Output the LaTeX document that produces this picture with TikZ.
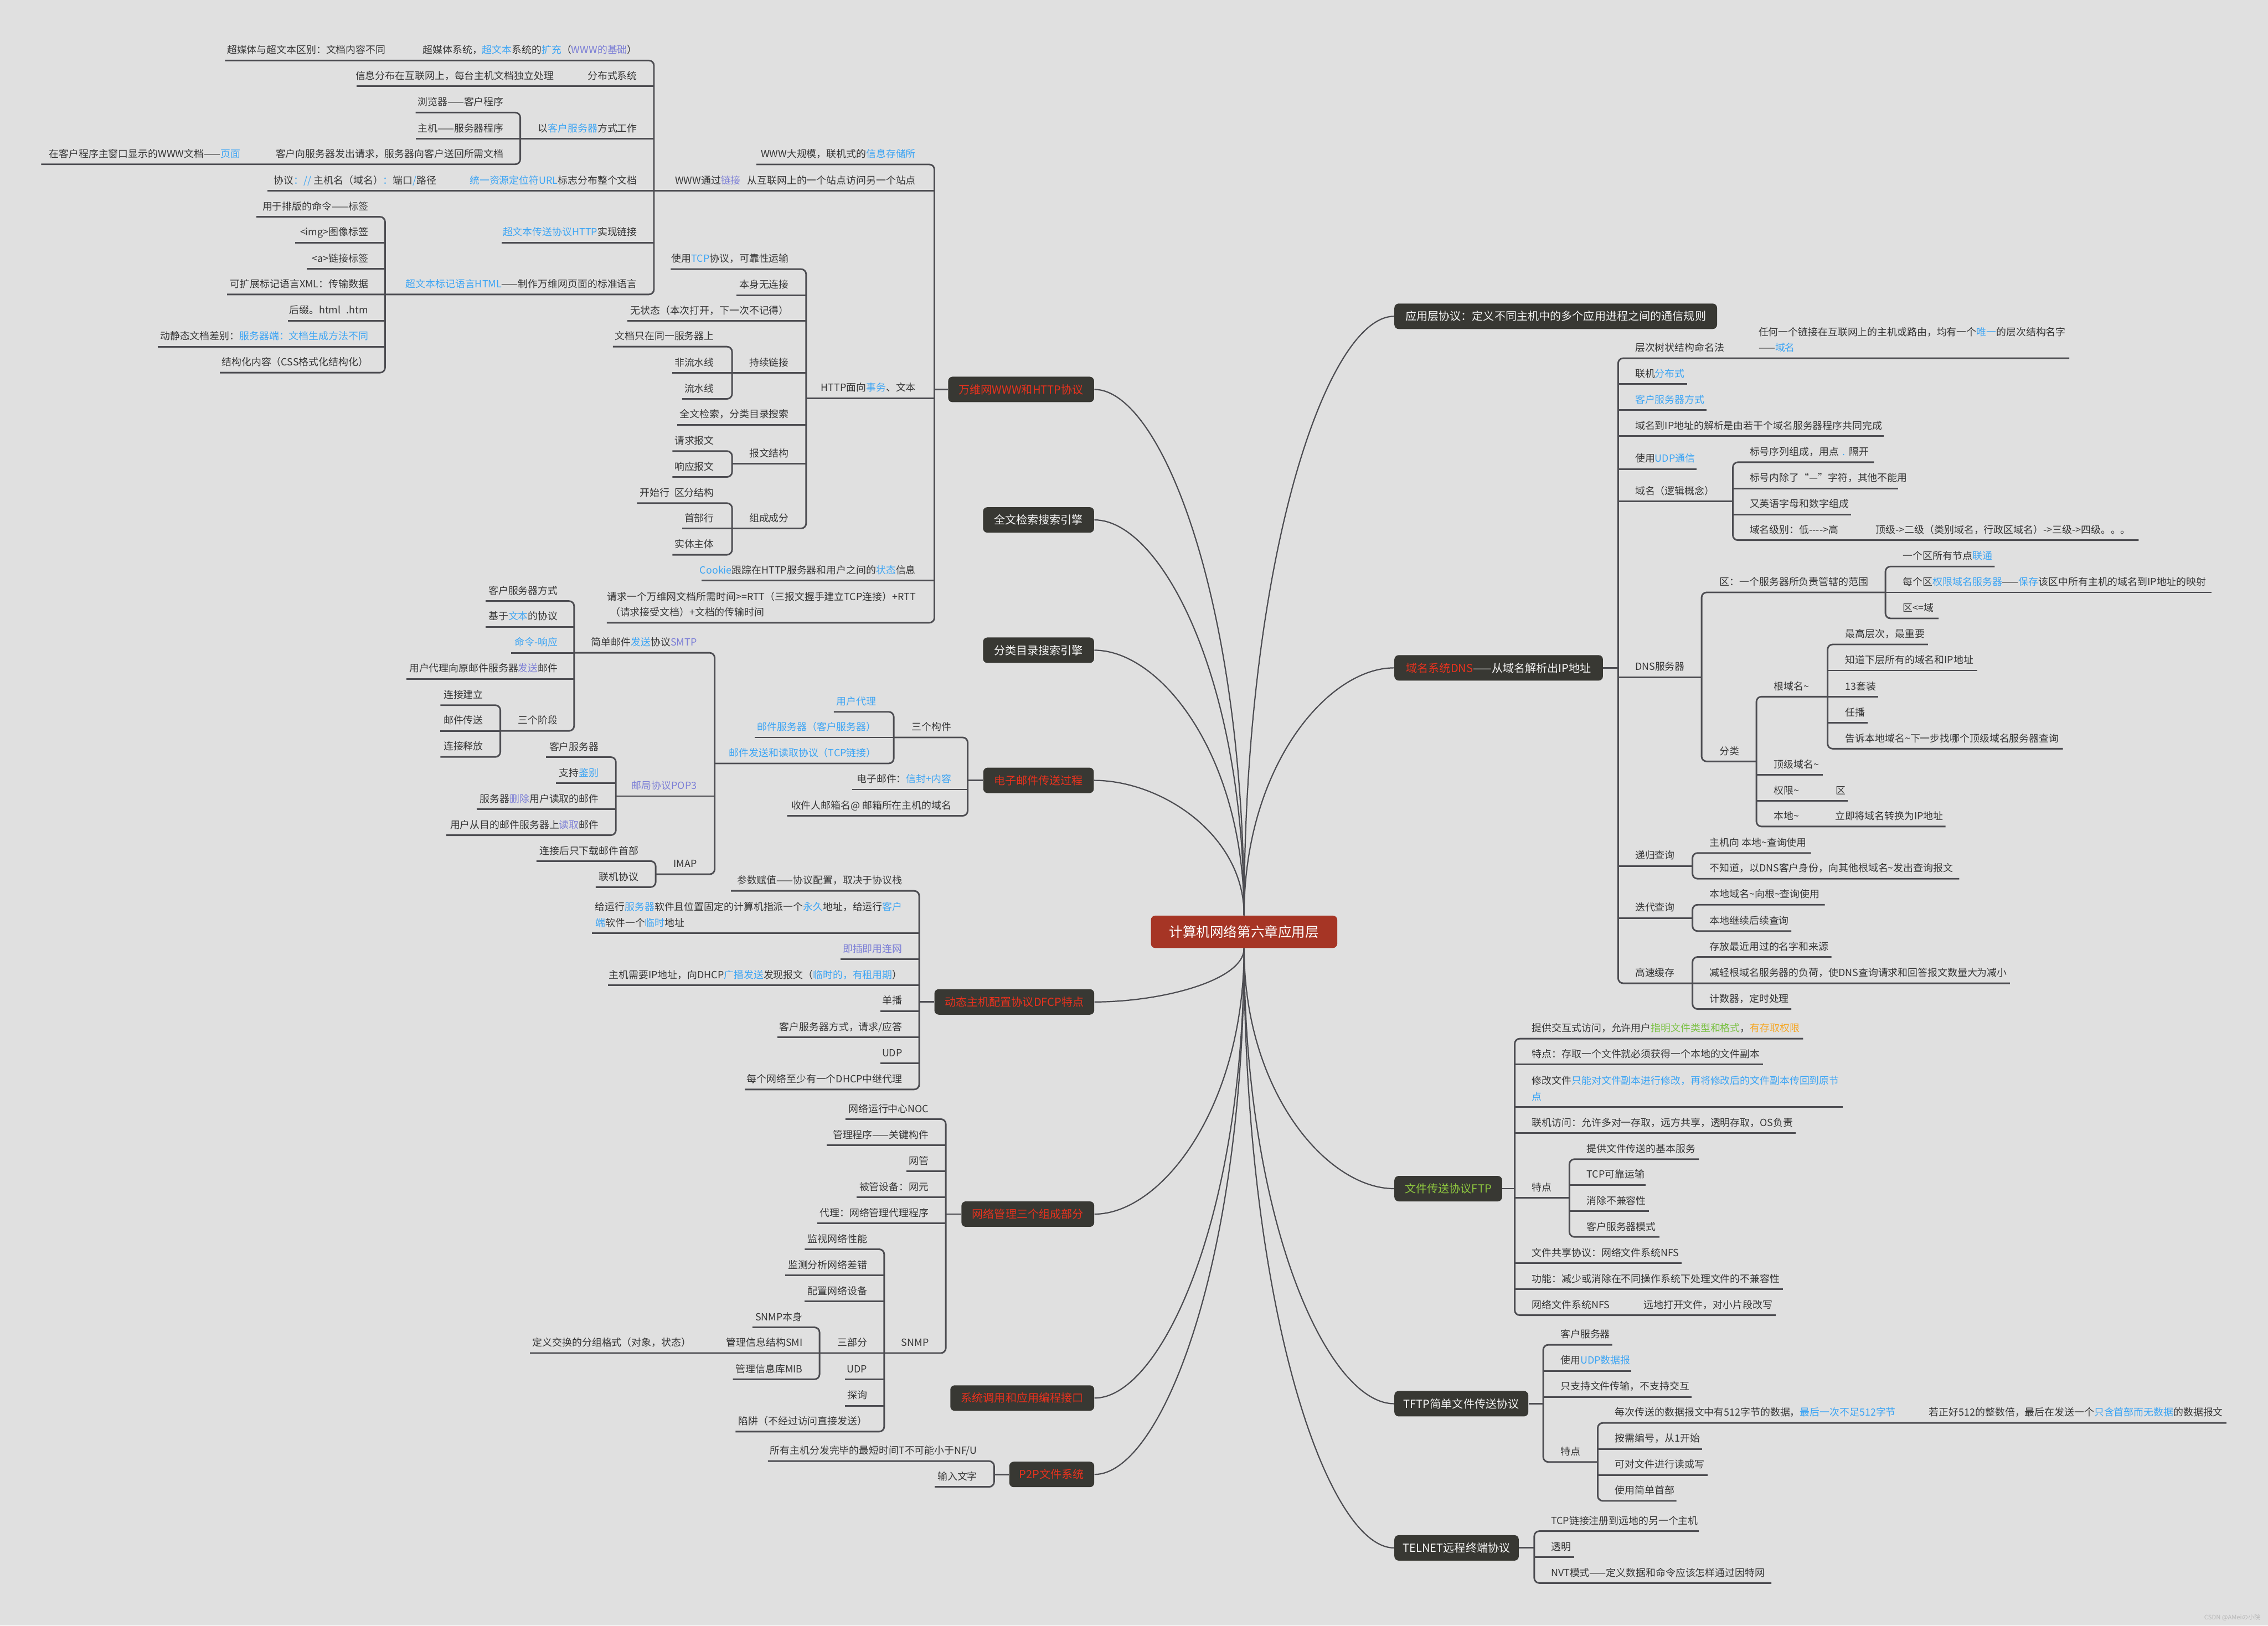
\documentclass[tikz,border=0pt]{standalone}
\usepackage{fontspec}
\newfontfamily\cjk{Noto Sans CJK SC}
\definecolor{cbg}{HTML}{E0E0E0}
\definecolor{cline}{HTML}{4D4D52}
\definecolor{ctext}{HTML}{363636}
\definecolor{cblue}{HTML}{3DA5F4}
\definecolor{cpurple}{HTML}{7C7FD6}
\definecolor{cgreen}{HTML}{7AC143}
\definecolor{cftp}{HTML}{8DC63F}
\definecolor{corange}{HTML}{F5A623}
\definecolor{cred}{HTML}{E8321E}
\definecolor{cbox}{HTML}{383833}
\definecolor{croot}{HTML}{A63525}
\definecolor{cwm}{HTML}{B8B8B8}
\definecolor{cwhite}{HTML}{F5F5F5}
\newcommand\leaffont{\cjk\fontsize{6.85}{8.2}\selectfont}
\newcommand\boxfont{\cjk\fontsize{7.7}{9}\selectfont}
\newcommand\rootfont{\cjk\fontsize{9.4}{11}\selectfont}
\newcommand\hlb[1]{\textcolor{cblue}{#1}}
\newcommand\hlp[1]{\textcolor{cpurple}{#1}}
\newcommand\hlg[1]{\textcolor{cgreen}{#1}}
\newcommand\hlo[1]{\textcolor{corange}{#1}}
\newcommand\TL[4]{\node[lt,anchor=base east] (#1) at (#2,#3-4.7) {#4};}
\newcommand\TR[4]{\node[lt,anchor=base west] (#1) at (#2,#3-4.7) {#4};}
\newcommand\UL[3]{\draw[ln] (#1,#3) -- (#2,#3);}
\newcommand\SP[5]{\draw[ln] (#2,#3) -- (#1,#3) -- (#1,#5) -- (#4,#5);}
\begin{document}
\begin{tikzpicture}[x=1pt,y=-1pt,
  lt/.style={inner sep=0pt, font=\leaffont, text=ctext},
  ln/.style={draw=cline, line width=1.1pt, rounded corners=3.5pt},
  cv/.style={draw=cline, line width=0.85pt},
  box/.style={fill=cbox, rounded corners=3pt, minimum height=17.6pt, inner sep=0pt, font=\boxfont, text=cwhite}]
\fill[cbg] (0,0) rectangle (1568,1124);
\useasboundingbox (0,0) rectangle (1568,1124);

% ---------- main topic boxes ----------
\node[fill=croot, rounded corners=3pt, minimum width=128.8pt, minimum height=22.4pt, inner sep=0pt, font=\rootfont, text=white] (root) at (860.1,644.3) {计算机网络第六章应用层};
\node[box,anchor=east,minimum width=100.9pt,text=cred] (www) at (756.6,269.3) {万维网WWW和HTTP协议};
\node[box,anchor=east,minimum width=76.8pt] (qw) at (756.6,359.5) {全文检索搜索引擎};
\node[box,anchor=east,minimum width=76.8pt] (fl) at (756.6,449.6) {分类目录搜索引擎};
\node[box,anchor=east,minimum width=76.4pt,text=cred] (mail) at (756.4,539.6) {电子邮件传送过程};
\node[box,anchor=east,minimum width=110.5pt,text=cred] (dfcp) at (756.7,692.8) {动态主机配置协议DFCP特点};
\node[box,anchor=east,minimum width=91.8pt,text=cred] (nm) at (756.7,839.5) {网络管理三个组成部分};
\node[box,anchor=east,minimum width=99.5pt,text=cred] (sys) at (756.7,966.7) {系统调用和应用编程接口};
\node[box,anchor=east,minimum width=58.7pt,text=cred] (p2p) at (756.7,1019.5) {P2P文件系统};
\node[box,anchor=west,minimum width=223.1pt] (app) at (963.8,218.7) {应用层协议：定义不同主机中的多个应用进程之间的通信规则};
\node[box,anchor=west,minimum width=144.2pt] (dns) at (963.8,461.8) {\textcolor{cred}{域名系统DNS}——从域名解析出IP地址};
\node[box,anchor=west,minimum width=74.5pt,text=cftp] (ftp) at (963.8,821.9) {文件传送协议FTP};
\node[box,anchor=west,minimum width=92.6pt] (tftp) at (963.8,970.6) {TFTP简单文件传送协议};
\node[box,anchor=west,minimum width=86pt] (telnet) at (963.8,1070.3) {TELNET远程终端协议};

% ---------- curves from root ----------
\draw[cv] (www.east) .. controls +(46,0) and +(0,-218) .. (root.north);
\draw[cv] (qw.east) .. controls +(46,0) and +(0,-164) .. (root.north);
\draw[cv] (fl.east) .. controls +(46,0) and +(0,-110) .. (root.north);
\draw[cv] (mail.east) .. controls +(46,0) and +(0,-56) .. (root.north);
\draw[cv] (dfcp.east) .. controls +(46,0) and +(0,22.4) .. (root.south);
\draw[cv] (nm.east) .. controls +(46,0) and +(0,110.4) .. (root.south);
\draw[cv] (sys.east) .. controls +(46,0) and +(0,186.7) .. (root.south);
\draw[cv] (p2p.east) .. controls +(46,0) and +(0,218.4) .. (root.south);
\draw[cv] (app.west) .. controls +(-46,0) and +(0,-248.6) .. (root.north);
\draw[cv] (dns.west) .. controls +(-46,0) and +(0,-102.8) .. (root.north);
\draw[cv] (ftp.west) .. controls +(-46,0) and +(0,99.8) .. (root.south);
\draw[cv] (tftp.west) .. controls +(-46,0) and +(0,189) .. (root.south);
\draw[cv] (telnet.west) .. controls +(-46,0) and +(0,248.9) .. (root.south);

% ---------- WWW: "WWW通过链接" group ----------
\SP{452.1}{155.6}{41.8}{157}{203.6}
\UL{246.6}{452.1}{59.6}
\UL{359.7}{452.1}{95.9}
\UL{185}{646}{131.85}
\UL{347}{452.1}{167.7}
\TL{a1}{266.8}{41.8}{超媒体与超文本区别：文档内容不同}
\TL{a2}{440.7}{41.8}{超媒体系统，\hlb{超文本}系统的\hlb{扩充}（\hlp{WWW的基础}）}
\TL{a3}{383}{59.6}{信息分布在互联网上，每台主机文档独立处理}
\TL{a4}{440.7}{59.6}{分布式系统}
\TL{a5}{440.7}{95.9}{以\hlb{客户服务器}方式工作}
\TL{a6}{440.7}{131.85}{\hlb{统一资源定位符URL}标志分布整个文档}
\TL{a7}{302}{131.85}{协议\hlb{：//} 主机名（域名）\hlb{：}端口\hlb{/}路径}
\TL{a8}{440.7}{167.7}{\hlb{超文本传送协议HTTP}实现链接}
\TL{a9}{440.7}{203.6}{\hlb{超文本标记语言HTML}——制作万维网页面的标准语言}
\SP{359.7}{287.3}{77.8}{28.5}{113.6}
\UL{287.3}{359.7}{95.9}
\TL{b1}{348.4}{77.8}{浏览器——客户程序}
\TL{b2}{348.4}{95.9}{主机——服务器程序}
\TL{b3}{348.4}{113.6}{客户向服务器发出请求，服务器向客户送回所需文档}
\TL{b4}{166.4}{113.6}{在客户程序主窗口显示的WWW文档——\hlb{页面}}
\SP{266.2}{177.3}{149.9}{152}{257.7}
\UL{204.2}{266.2}{167.7}
\UL{212.2}{266.2}{185.9}
\UL{199}{266.2}{221.7}
\UL{109}{266.2}{239.7}
\TL{c1}{254.8}{149.9}{用于排版的命令——标签}
\TL{c2}{254.8}{167.7}{<img>图像标签}
\TL{c3}{254.8}{185.9}{<a>链接标签}
\TL{c4}{254.8}{203.6}{可扩展标记语言XML：传输数据}
\TL{c5}{254.8}{221.7}{后缀。html\hspace{4pt}.htm}
\TL{c6}{254.8}{239.7}{动静态文档差别：\hlb{服务器端：文档生成方法不同}}
\TL{c7}{254.8}{257.7}{结构化内容（CSS格式化结构化）}

% ---------- WWW main spine ----------
\SP{646}{523}{113.7}{419.5}{430.6}
\UL{557.3}{646}{275.3}
\UL{484.9}{646}{401.5}
\draw[ln] (646,269.3) -- (www.west);
\TL{d1}{633.3}{113.7}{WWW大规模，联机式的\hlb{信息存储所}}
\TL{d2}{633.3}{131.85}{WWW通过\hlp{链接}\hspace{4.5pt}从互联网上的一个站点访问另一个站点}
\TL{d3}{633.3}{275.3}{HTTP面向\hlb{事务}、文本}
\TL{d4}{633.3}{401.5}{\hlb{Cookie}跟踪在HTTP服务器和用户之间的\hlb{状态}信息}
\TL{d5}{633.3}{419.7}{请求一个万维网文档所需时间>=RTT（三报文握手建立TCP连接）+RTT}
\TR{d6}{421.7}{430.7}{（请求接受文档）+文档的传输时间}
\SP{557.3}{463.7}{186.1}{506.1}{365.4}
\UL{509.3}{557.3}{204.1}
\UL{433.7}{557.3}{221.8}
\UL{464.9}{557.3}{257.8}
\UL{468.1}{557.3}{293.7}
\UL{506.1}{557.3}{320.6}
\TL{e1}{545.6}{186.1}{使用\hlb{TCP}协议，可靠性运输}
\TL{e2}{545.6}{204.1}{本身无连接}
\TL{e3}{545.6}{221.8}{无状态（本次打开，下一次不记得）}
\TL{e4}{545.6}{257.8}{持续链接}
\TL{e5}{545.6}{293.7}{全文检索，分类目录搜索}
\TL{e6}{545.6}{320.6}{报文结构}
\TL{e7}{545.6}{365.4}{组成成分}
\SP{506.1}{423.7}{239.7}{471.6}{275.8}
\TL{f1}{493.9}{239.7}{文档只在同一服务器上}
\TL{f2}{493.9}{257.8}{非流水线}
\TL{f3}{493.9}{275.8}{流水线}
\SP{506.1}{464.9}{311.9}{464.9}{329.8}
\TL{f4}{493.9}{311.9}{请求报文}
\TL{f5}{493.9}{329.8}{响应报文}
\SP{506.1}{440.4}{347.9}{464.9}{383.6}
\UL{471.6}{506.1}{365.4}
\TL{f6}{493.9}{347.9}{开始行\hspace{3.4pt}区分结构}
\TL{f7}{493.9}{365.4}{首部行}
\TL{f8}{493.9}{383.6}{实体主体}

% ---------- Email ----------
\SP{669}{617.9}{509.9}{544.2}{564.1}
\UL{589}{669}{545.9}
\draw[ln] (669,539.6) -- (mail.west);
\TL{g1}{658}{509.9}{三个构件}
\TL{g2}{658}{545.9}{电子邮件：\hlb{信封+内容}}
\TL{g3}{658}{564.1}{收件人邮箱名@ 邮箱所在主机的域名}
\SP{617.9}{576.5}{492.2}{494.1}{527.9}
\UL{521.7}{617.9}{509.9}
\TL{g4}{606}{492.2}{\hlb{用户代理}}
\TL{g5}{606}{509.9}{\hlb{邮件服务器（客户服务器）}}
\TL{g6}{606}{527.9}{\hlb{邮件发送和读取协议（TCP链接）}}
\SP{494.1}{396.9}{451.4}{453.3}{604.5}
\UL{425.8}{494.1}{550.5}
\TL{h1}{481.9}{451.4}{简单邮件\hlb{发送}协议\hlp{SMTP}}
\TL{h2}{481.9}{550.5}{\hlp{邮局协议POP3}}
\TL{h3}{481.9}{604.5}{IMAP}
\SP{396.9}{335.8}{415.6}{345.9}{505.4}
\UL{335.8}{396.9}{433.4}
\UL{353.4}{396.9}{451.4}
\UL{281}{396.9}{469.4}
\TL{i1}{385.9}{415.6}{客户服务器方式}
\TL{i2}{385.9}{433.4}{基于\hlb{文本}的协议}
\TL{i3}{385.9}{451.4}{\hlb{命令-响应}}
\TL{i4}{385.9}{469.4}{用户代理向原邮件服务器\hlp{发送}邮件}
\TL{i5}{385.9}{505.4}{三个阶段}
\SP{345.9}{304.5}{487.6}{304.5}{523.4}
\UL{304.5}{345.9}{505.4}
\TL{i6}{334.3}{487.6}{连接建立}
\TL{i7}{334.3}{505.4}{邮件传送}
\TL{i8}{334.3}{523.4}{连接释放}
\SP{425.8}{377.5}{523.5}{308.6}{577.5}
\UL{384.4}{425.8}{541.4}
\UL{329.5}{425.8}{559.4}
\TL{j1}{414.2}{523.5}{客户服务器}
\TL{j2}{414.2}{541.4}{支持\hlb{鉴别}}
\TL{j3}{414.2}{559.4}{服务器\hlp{删除}用户读取的邮件}
\TL{j4}{414.2}{577.5}{用户从目的邮件服务器上\hlp{读取}邮件}
\SP{453.3}{370.9}{595.4}{411.9}{613.4}
\TL{j5}{441.7}{595.4}{连接后只下载邮件首部}
\TL{j6}{441.7}{613.4}{联机协议}

% ---------- DFCP ----------
\SP{635.5}{505.4}{616}{515}{753.3}
\UL{409.2}{635.5}{645.2}
\UL{581}{635.5}{663.2}
\UL{420.5}{635.5}{681.3}
\UL{608.6}{635.5}{699.1}
\UL{537.3}{635.5}{717.2}
\UL{608.6}{635.5}{735.2}
\draw[ln] (635.5,692.8) -- (dfcp.west);
\TL{k1}{624}{616}{参数赋值——协议配置，取决于协议栈}
\TL{k2}{624}{634.3}{给运行\hlb{服务器}软件且位置固定的计算机指派一个\hlb{永久}地址，给运行\hlb{客户}}
\TR{k3}{411.5}{645.4}{\hlb{端}软件一个\hlb{临时}地址}
\TL{k4}{624}{663.2}{\hlp{即插即用连网}}
\TL{k5}{624}{681.3}{主机需要IP地址，向DHCP\hlb{广播发送}发现报文（\hlb{临时的，有租用期}）}
\TL{k6}{624}{699.1}{单播}
\TL{k7}{624}{717.2}{客户服务器方式，请求/应答}
\TL{k8}{624}{735.2}{UDP}
\TL{k9}{624}{753.3}{每个网络至少有一个DHCP中继代理}

% ---------- network management ----------
\SP{653.9}{584.5}{773.8}{366.4}{935.6}
\UL{571.7}{653.9}{791.8}
\UL{626.6}{653.9}{809.9}
\UL{592.2}{653.9}{827.9}
\UL{564.9}{653.9}{845.9}
\draw[ln] (653.9,839.5) -- (nm.west);
\TL{m1}{642.3}{773.8}{网络运行中心NOC}
\TL{m2}{642.3}{791.8}{管理程序——关键构件}
\TL{m3}{642.3}{809.9}{网管}
\TL{m4}{642.3}{827.9}{被管设备：网元}
\TL{m5}{642.3}{845.9}{代理：网络管理代理程序}
\TL{m6}{642.3}{935.6}{SNMP}
\SP{611.3}{556.4}{863.8}{508.5}{989.9}
\UL{542.9}{611.3}{881.8}
\UL{556.4}{611.3}{899.9}
\UL{584}{611.3}{953.7}
\UL{584}{611.3}{972}
\TL{n1}{599.8}{863.8}{监视网络性能}
\TL{n2}{599.8}{881.8}{监测分析网络差错}
\TL{n3}{599.8}{899.9}{配置网络设备}
\TL{n4}{599.8}{935.6}{三部分}
\TL{n5}{599.8}{953.7}{UDP}
\TL{n6}{599.8}{972}{探询}
\TL{n7}{599.8}{989.9}{陷阱（不经过访问直接发送）}
\SP{566.6}{520.2}{917.8}{506.7}{953.7}
\TL{o1}{555.1}{917.8}{SNMP本身}
\TL{o2}{555.1}{935.6}{管理信息结构SMI}
\TL{o3}{555.1}{953.7}{管理信息库MIB}
\TL{o4}{478}{935.6}{定义交换的分组格式（对象，状态）}

% ---------- P2P ----------
\SP{687.3}{530.9}{1010.3}{646.2}{1028.1}
\draw[ln] (687.3,1019.5) -- (p2p.west);
\TL{q1}{675.8}{1010.3}{所有主机分发完毕的最短时间T不可能小于NF/U}
\TL{q2}{675.8}{1028.1}{输入文字}

% ---------- DNS ----------
\SP{1118.7}{1430.6}{247.7}{1389.5}{679.9}
\UL{1118.7}{1166.6}{265.6}
\UL{1118.7}{1180}{283.6}
\UL{1118.7}{1302.5}{301.5}
\UL{1118.7}{1173.1}{324.3}
\UL{1118.7}{1198}{346.7}
\UL{1118.7}{1176.4}{468.2}
\UL{1118.7}{1170.1}{598.8}
\UL{1118.7}{1170.1}{634.8}
\draw[ln] (dns.east) -- (1118.7,461.8);
\TR{r1}{1130.3}{247.7}{层次树状结构命名法}
\TR{r2}{1215.6}{236.7}{任何一个链接在互联网上的主机或路由，均有一个\hlb{唯一}的层次结构名字}
\TR{r3}{1215.6}{247.7}{——\hlb{域名}}
\TR{r4}{1130.3}{265.6}{联机\hlb{分布式}}
\TR{r5}{1130.3}{283.6}{\hlb{客户服务器方式}}
\TR{r6}{1130.3}{301.5}{域名到IP地址的解析是由若干个域名服务器程序共同完成}
\TR{r7}{1130.3}{324.3}{使用\hlb{UDP通信}}
\TR{r8}{1130.3}{346.7}{域名（逻辑概念）}
\TR{r9}{1130.3}{468.2}{DNS服务器}
\TR{r10}{1130.3}{598.8}{递归查询}
\TR{r11}{1130.3}{634.8}{迭代查询}
\TR{r12}{1130.3}{679.9}{高速缓存}
\SP{1198}{1295.6}{319.6}{1478.5}{373.5}
\UL{1198}{1312.1}{337.7}
\UL{1198}{1279.6}{355.7}
\TR{s1}{1209.5}{319.6}{标号序列组成，用点\hspace{2.5pt}\hlb{.}\hspace{2.5pt}隔开}
\TR{s2}{1209.5}{337.7}{标号内除了“—”字符，其他不能用}
\TR{s3}{1209.5}{355.7}{又英语字母和数字组成}
\TR{s4}{1209.5}{373.5}{域名级别：低-{}-{}-{}->高}
\TR{s5}{1296.7}{373.5}{顶级->二级（类别域名，行政区域名）->三级->四级。。。}
\SP{1176.4}{1303.5}{409.6}{1214.3}{526.5}
\TR{t1}{1188.7}{409.6}{区：一个服务器所负责管辖的范围}
\TR{t2}{1188.7}{526.5}{分类}
\SP{1303.5}{1379}{391.7}{1340.3}{427.6}
\UL{1303.5}{1529}{409.6}
\TR{t3}{1315.5}{391.7}{一个区所有节点\hlb{联通}}
\TR{t4}{1315.5}{409.6}{每个区\hlb{权限域名服务器}——\hlb{保存}该区中所有主机的域名到IP地址的映射}
\TR{t5}{1315.5}{427.6}{区<=域}
\SP{1214.3}{1263.5}{481.7}{1345}{571.5}
\UL{1214.3}{1260.2}{535.9}
\UL{1214.3}{1277.6}{553.7}
\TR{u1}{1226.1}{481.7}{根域名\textasciitilde}
\TR{u2}{1226.1}{535.9}{顶级域名\textasciitilde}
\TR{u3}{1226.1}{553.7}{权限\textasciitilde}
\TR{u4}{1269}{553.7}{区}
\TR{u5}{1226.1}{571.5}{本地\textasciitilde}
\TR{u6}{1268.5}{571.5}{立即将域名转换为IP地址}
\SP{1263.5}{1332.9}{445.6}{1426.2}{517.7}
\UL{1263.5}{1366.9}{463.6}
\UL{1263.5}{1298.5}{481.7}
\UL{1263.5}{1291.2}{499.7}
\TR{v1}{1275.6}{445.6}{最高层次，最重要}
\TR{v2}{1275.6}{463.6}{知道下层所有的域名和IP地址}
\TR{v3}{1275.6}{481.7}{13套装}
\TR{v4}{1275.6}{499.7}{任播}
\TR{v5}{1275.6}{517.7}{告诉本地域名\textasciitilde 下一步找哪个顶级域名服务器查询}
\SP{1170.1}{1252}{589.8}{1354.5}{607.6}
\TR{w1}{1181.8}{589.8}{主机向 本地\textasciitilde 查询使用}
\TR{w2}{1181.8}{607.6}{不知道，以DNS客户身份，向其他根域名\textasciitilde 发出查询报文}
\SP{1170.1}{1261.6}{625.6}{1238.4}{643.8}
\TR{w3}{1181.8}{625.6}{本地域名\textasciitilde 向根\textasciitilde 查询使用}
\TR{w4}{1181.8}{643.8}{本地继续后续查询}
\SP{1170.1}{1266.2}{661.7}{1238.4}{697.7}
\TR{w5}{1181.8}{661.7}{存放最近用过的名字和来源}
\TR{w6}{1181.8}{679.9}{减轻根域名服务器的负荷，使DNS查询请求和回答报文数量大为减小}
\TR{w7}{1181.8}{697.7}{计数器，定时处理}

% ---------- FTP ----------
\SP{1047.2}{1246.6}{718.2}{1227.6}{909.4}
\UL{1047.2}{1219}{736.1}
\UL{1047.2}{1273.8}{765.4}
\UL{1047.2}{1241.4}{783.5}
\UL{1047.2}{1085}{828.3}
\UL{1047.2}{1162.7}{873.4}
\UL{1047.2}{1232.8}{891.4}
\draw[ln] (ftp.east) -- (1047.2,821.9);
\TR{x1}{1059}{718.2}{提供交互式访问，允许用户\hlg{指明文件类型和格式}，\hlo{有存取权限}}
\TR{x2}{1059}{736.1}{特点：存取一个文件就必须获得一个本地的文件副本}
\TR{x3}{1059}{754.4}{修改文件\hlb{只能对文件副本进行修改，再将修改后的文件副本传回到原节}}
\TR{x4}{1059}{765.4}{\hlb{点}}
\TR{x5}{1059}{783.5}{联机访问：允许多对一存取，远方共享，透明存取，OS负责}
\TR{x6}{1059}{828.3}{特点}
\TR{x7}{1059}{873.4}{文件共享协议：网络文件系统NFS}
\TR{x8}{1059}{891.4}{功能：减少或消除在不同操作系统下处理文件的不兼容性}
\TR{x9}{1059}{909.4}{网络文件系统NFS}
\TR{x10}{1136.1}{909.4}{远地打开文件，对小片段改写}
\SP{1085}{1174.5}{801.5}{1147.2}{855.3}
\UL{1085}{1137.7}{819.3}
\UL{1085}{1140}{837.5}
\TR{y1}{1096.7}{801.5}{提供文件传送的基本服务}
\TR{y2}{1096.7}{819.3}{TCP可靠运输}
\TR{y3}{1096.7}{837.5}{消除不兼容性}
\TR{y4}{1096.7}{855.3}{客户服务器模式}

% ---------- TFTP ----------
\SP{1066.9}{1114.6}{929.9}{1104.6}{1010.9}
\UL{1066.9}{1127.9}{947.9}
\UL{1066.9}{1169.5}{965.9}
\draw[ln] (tftp.east) -- (1066.9,970.6);
\TR{z1}{1078.7}{929.9}{客户服务器}
\TR{z2}{1078.7}{947.9}{使用\hlb{UDP数据报}}
\TR{z3}{1078.7}{965.9}{只支持文件传输，不支持交互}
\TR{z4}{1078.7}{1010.9}{特点}
\SP{1104.6}{1539.2}{983.9}{1159}{1037.8}
\UL{1104.6}{1176.8}{1001.9}
\UL{1104.6}{1180.4}{1019.9}
\TR{z5}{1116.4}{983.9}{每次传送的数据报文中有512字节的数据，\hlb{最后一次不足512字节}}
\TR{z6}{1333.5}{983.9}{若正好512的整数倍，最后在发送一个\hlb{只含首部而无数据}的数据报文}
\TR{z7}{1116.4}{1001.9}{按需编号，从1开始}
\TR{z8}{1116.4}{1019.9}{可对文件进行读或写}
\TR{z9}{1116.4}{1037.8}{使用简单首部}

% ---------- TELNET ----------
\SP{1060.7}{1174.5}{1058.7}{1224.6}{1094.6}
\UL{1060.7}{1088.2}{1076.6}
\draw[ln] (telnet.east) -- (1060.7,1070.3);
\TR{aa1}{1072.1}{1058.7}{TCP链接注册到远地的另一个主机}
\TR{aa2}{1072.1}{1076.6}{透明}
\TR{aa3}{1072.1}{1094.6}{NVT模式——定义数据和命令应该怎样通过因特网}

% ---------- watermark ----------
\node[inner sep=0pt, anchor=base east, font=\cjk\fontsize{4.3}{5}\selectfont, text=cwm] (wm) at (1563,1120) {CSDN @AMeiの小院};
\end{tikzpicture}
\end{document}
